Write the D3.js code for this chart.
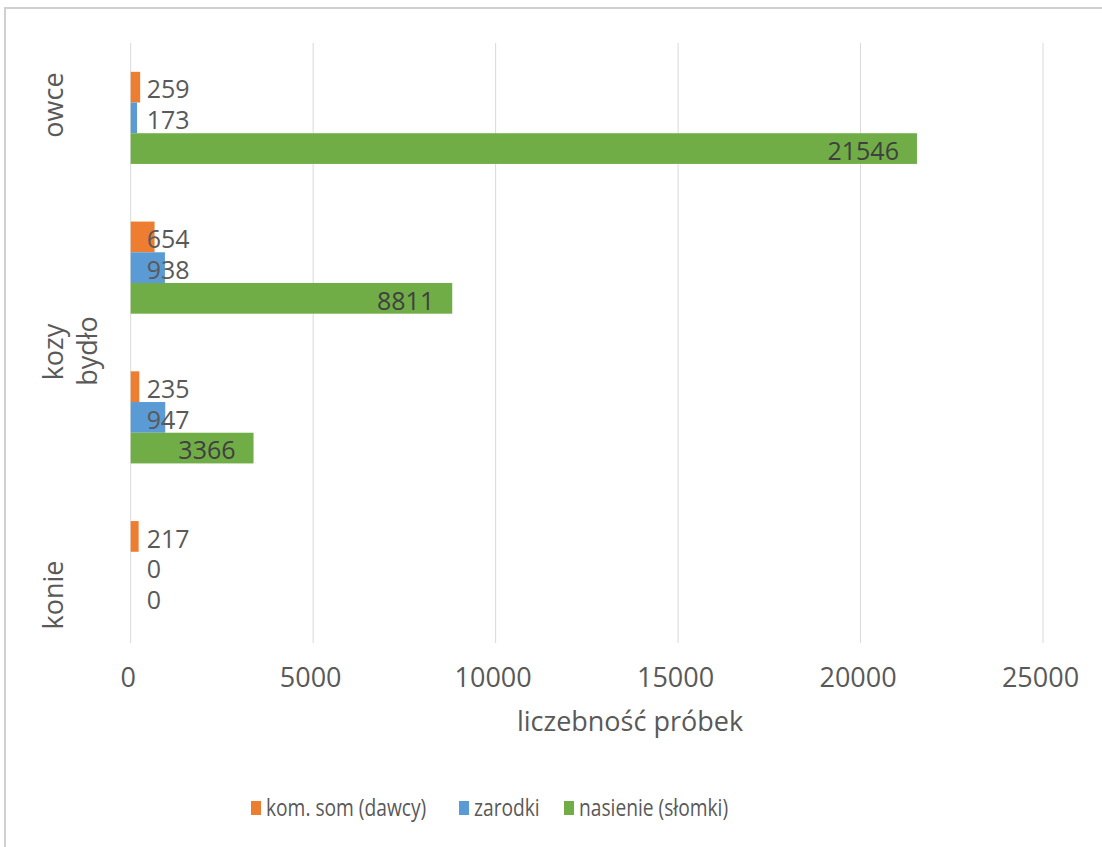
<!DOCTYPE html>
<html>
<head>
<meta charset="utf-8">
<script src="https://cdn.jsdelivr.net/npm/d3@7"></script>
<style>
  body { margin: 0; background: #fff; }
  text { font-family: "Open Sans", sans-serif; fill: #595959; }
</style>
</head>
<body>
<svg width="1102" height="847"></svg>
<script>
// data
var categories = ["owce", "kozy", "bydło", "konie"];
var seriesNames = ["kom. som (dawcy)", "zarodki", "nasienie (słomki)"];
var komSom = [259, 654, 235, 217];
var zarodki = [173, 938, 947, 0];
var nasienie = [21546, 8811, 3366, 0];
var xTicks = [0, 5000, 10000, 15000, 20000, 25000];
var colors = ["#ED7D31", "#5B9BD5", "#70AD47"];

var seriesValues = [komSom, zarodki, nasienie];

var svg = d3.select("svg"),
    width = +svg.attr("width"),
    height = +svg.attr("height");

// chart frame
svg.append("line").attr("x1", 5).attr("x2", width).attr("y1", 8).attr("y2", 8)
  .attr("stroke", "#d0d0d0").attr("stroke-width", 2);
svg.append("line").attr("x1", 5).attr("x2", 5).attr("y1", 7).attr("y2", height)
  .attr("stroke", "#d0d0d0").attr("stroke-width", 2);

var x = d3.scaleLinear().domain([0, 25000]).range([130.7, 1043]);

var y0 = d3.scaleBand().domain(categories).range([43, 642])
  .paddingInner(0.385).paddingOuter(0.1925);

var y1 = d3.scaleBand().domain(d3.range(seriesNames.length)).range([0, y0.bandwidth()]);

// gridlines
svg.append("g").selectAll("line")
  .data(xTicks)
  .enter().append("line")
  .attr("x1", function(d) { return x(d); })
  .attr("x2", function(d) { return x(d); })
  .attr("y1", 43).attr("y2", 643)
  .attr("stroke", "#d9d9d9").attr("stroke-width", 1);

// tick labels
var xAxis = svg.append("g")
  .attr("transform", "translate(0,687)")
  .call(d3.axisBottom(x).tickValues(xTicks).tickSize(0).tickPadding(0).tickFormat(d3.format("d")));
xAxis.select(".domain").remove();
xAxis.selectAll("text")
  .attr("dx", -3).attr("dy", 0)
  .style("font-size", "27px")
  .style("fill", "#595959")
  .style("font-family", "Open Sans, sans-serif");

svg.append("text")
  .attr("x", 630).attr("y", 731)
  .attr("text-anchor", "middle")
  .style("font-size", "27px")
  .text("liczebność próbek");

// rows
var rows = svg.append("g").selectAll("g")
  .data(categories)
  .enter().append("g")
  .attr("transform", function(d) { return "translate(0," + y0(d) + ")"; });

rows.selectAll("rect")
  .data(function(d, i) { return seriesValues.map(function(s, j) { return {s: j, v: s[i]}; }); })
  .enter().append("rect")
  .attr("x", x(0))
  .attr("y", function(d) { return y1(d.s); })
  .attr("width", function(d) { return x(d.v) - x(0); })
  .attr("height", y1.bandwidth())
  .attr("fill", function(d) { return colors[d.s]; });

rows.selectAll("text.val")
  .data(function(d, i) { return seriesValues.map(function(s, j) { return {s: j, v: s[i]}; }); })
  .enter().append("text")
  .attr("class", "val")
  .attr("x", function(d) {
    if (d.s === 2 && d.v > 1000) return x(d.v) - 18;
    return x(0) + 16;
  })
  .attr("y", function(d) { return y1(d.s) + y1.bandwidth() / 2; })
  .attr("dy", "0.45em")
  .attr("text-anchor", function(d) { return (d.s === 2 && d.v > 1000) ? "end" : "start"; })
  .style("font-size", "25px")
  .style("fill", function(d) { return (d.s === 2 && d.v > 1000) ? "#404040" : "#595959"; })
  .text(function(d) { return d.v; });

// category labels (placed the way the original renders them)
var catPos = {
  "owce":  {x: 63, y: 105},
  "kozy":  {x: 63, y: 352},
  "bydło": {x: 97, y: 351},
  "konie": {x: 63, y: 595}
};
svg.append("g").selectAll("text")
  .data(categories)
  .enter().append("text")
  .attr("transform", function(d) { return "translate(" + catPos[d].x + "," + catPos[d].y + ") rotate(-90)"; })
  .attr("text-anchor", "middle")
  .style("font-size", "27px")
  .text(function(d) { return d; });

// legend
var legendX = [251, 459, 564];
var legend = svg.append("g").selectAll("g")
  .data(seriesNames)
  .enter().append("g")
  .attr("transform", function(d, i) { return "translate(" + legendX[i] + ",801)"; });

legend.append("rect")
  .attr("width", 10).attr("height", 14)
  .attr("fill", function(d, i) { return colors[i]; });

legend.append("text")
  .attr("transform", "translate(15,15) scale(0.8,1)")
  .style("font-size", "24px")
  .text(function(d) { return d; });
</script>
</body>
</html>
